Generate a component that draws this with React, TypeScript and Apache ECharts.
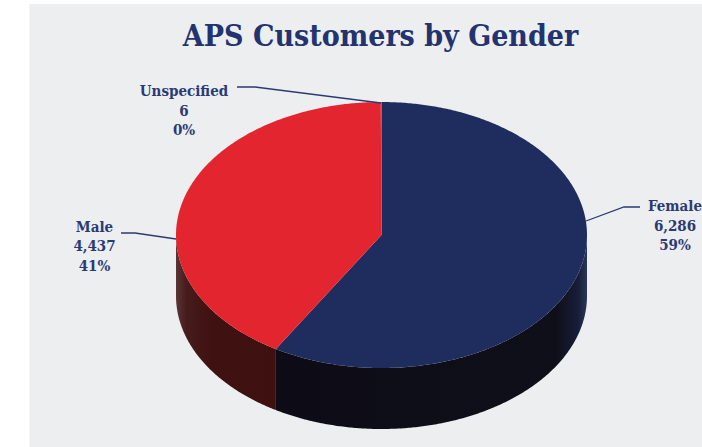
import React, { useEffect, useRef } from "react";
import * as echarts from "echarts";

const titleText = "APS Customers by Gender";
const categories = ["Female", "Male", "Unspecified"];
const customers = [6286, 4437, 6];
const topColors = ["#1f2c5e", "#e2252f", "#e2252f"];

const CX = 381.5, CY = 235, RX = 205.5, RY = 133, DEPTH = 61;
const FONT = "'DejaVu Serif Condensed','DejaVu Serif',serif";
const INK = "#2b3a74";

const labelCenters = [
  { x: 675, y: [206, 226, 245] },
  { x: 94.5, y: [227, 246, 266] },
  { x: 184, y: [91, 111, 130] },
];
const leaders = [
  [[586, 221], [624, 207], [640, 207]],
  [[176, 239], [135, 233], [121, 233]],
  [[381, 103], [255, 87], [237, 87]],
];

const total = customers.reduce((a, b) => a + b, 0);
const spans = customers.map((v, i) => {
  const start = customers.slice(0, i).reduce((a, b) => a + b, 0);
  return [(start / total) * 360, ((start + v) / total) * 360];
});

const rim = (deg: number, dy = 0) => {
  const r = (deg * Math.PI) / 180;
  return [CX + RX * Math.sin(r), CY - RY * Math.cos(r) + dy];
};
const arc = (a: number, b: number, dy = 0) => {
  const pts: number[][] = [];
  const n = Math.max(2, Math.ceil((b - a) * 2));
  for (let k = 0; k <= n; k++) pts.push(rim(a + ((b - a) * k) / n, dy));
  return pts;
};

const sideFills = [
  new echarts.graphic.LinearGradient(0, 0, 1, 0, [
    { offset: 0, color: "#0d0c16" },
    { offset: 0.9, color: "#0f0f1a" },
    { offset: 0.97, color: "#171d38" },
    { offset: 1, color: "#2b3658" },
  ]),
  new echarts.graphic.LinearGradient(0, 0, 1, 0, [
    { offset: 0, color: "#5a3535" },
    { offset: 0.1, color: "#471c1c" },
    { offset: 0.35, color: "#401111" },
    { offset: 1, color: "#3e1010" },
  ]),
];

export default function App() {
  const ref = useRef<HTMLDivElement>(null);
  useEffect(() => {
    document.body.style.margin = "0";
    const chart = echarts.init(ref.current!, undefined, { renderer: "svg" });
    const labelEls = categories.flatMap((name, i) => {
      const pct = Math.round((customers[i] / total) * 100) + "%";
      const lines = [name, customers[i].toLocaleString("en-US"), pct];
      return lines.map((t, j) => ({
        type: "text",
        z: 10,
        x: labelCenters[i].x,
        y: labelCenters[i].y[j],
        style: {
          text: t,
          fill: INK,
          font: `bold 15px ${FONT}`,
          textAlign: "center",
          textVerticalAlign: "middle",
        },
      }));
    });
    const leaderEls = leaders.map((points) => ({
      type: "polyline",
      z: 9,
      shape: { points },
      style: { stroke: "#2b3a74", lineWidth: 1.3, fill: "none" },
    }));
    chart.setOption({
      animation: false,
      backgroundColor: "#ffffff",
      title: {
        text: titleText,
        left: 375.5,
        top: 15,
        textAlign: "center",
        textStyle: { color: "#22336f", fontFamily: FONT, fontWeight: "bold", fontSize: 30 },
      },
      graphic: [
        {
          type: "rect",
          z: -10,
          shape: { x: 29.5, y: 4, width: 673, height: 443 },
          style: { fill: "#eceef0" },
        },
        ...leaderEls,
        ...labelEls,
      ],
      series: [
        {
          type: "custom",
          coordinateSystem: "none",
          z: 2,
          data: customers.map((v) => [v]),
          renderItem: (params: any) => {
            const [a, b] = spans[params.dataIndex];
            const s = Math.max(a, 90), e = Math.min(b, 270);
            if (e <= s) return { type: "group", children: [] };
            const top = arc(s, e);
            const bottom = arc(s, e, DEPTH).reverse();
            return {
              type: "polygon",
              shape: { points: [...top, ...bottom] },
              style: { fill: sideFills[params.dataIndex] },
            };
          },
        },
        {
          type: "custom",
          coordinateSystem: "none",
          z: 3,
          data: customers.map((v) => [v]),
          renderItem: (params: any) => {
            const [a, b] = spans[params.dataIndex];
            return {
              type: "polygon",
              shape: { points: [[CX, CY], ...arc(a, b)] },
              style: { fill: topColors[params.dataIndex] },
            };
          },
        },
      ],
    });
    return () => chart.dispose();
  }, []);
  return <div ref={ref} style={{ width: 702, height: 447 }} />;
}
